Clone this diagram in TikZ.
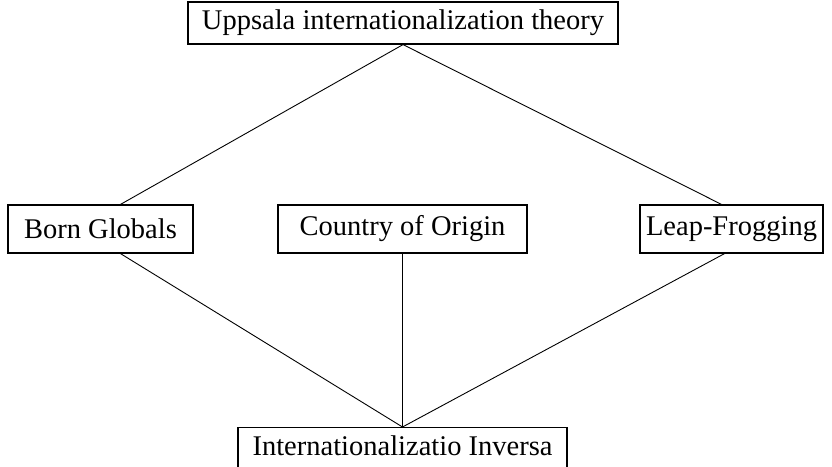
\documentclass[tikz,border=0pt]{standalone}
\usepackage{fontspec}
\setmainfont{Liberation Serif}
\tikzset{
  theorybox/.style={draw, line width=1.2pt, inner sep=0pt, font=\fontsize{28.5}{32}\selectfont},
  link/.style={line width=0.9pt}
}
\begin{document}
\begin{tikzpicture}[x=1pt, y=-1pt, line join=miter]
	\clip (0,0) rectangle (832,466);
	\useasboundingbox (0,0) rectangle (832,466);
	% the five boxes
	\node[theorybox, minimum width=430pt, minimum height=42pt] (uppsala) at (403,23) {Uppsala internationalization theory};
	\node[theorybox, minimum width=185pt, minimum height=48pt] (born) at (100.5,229) {Born Globals};
	\node[theorybox, minimum width=249pt, minimum height=48pt] (origin) at (402.5,229) {Country of Origin};
	\node[theorybox, minimum width=183pt, minimum height=48pt] (leap) at (731.5,229) {Leap-Frogging};
	\node[theorybox, minimum width=329pt, text height=28pt, text depth=26pt, anchor=north] (inversa) at (402.5,427) {Internationalizatio Inversa};
	% connectors
	\draw[link] (uppsala.south) -- ([xshift=20pt]born.north);
	\draw[link] (uppsala.south) -- ([xshift=-10pt]leap.north);
	\draw[link] ([xshift=20pt]born.south) -- (inversa.north);
	\draw[link] (origin.south) -- (inversa.north);
	\draw[link] ([xshift=-7pt]leap.south) -- (inversa.north);
\end{tikzpicture}
\end{document}
